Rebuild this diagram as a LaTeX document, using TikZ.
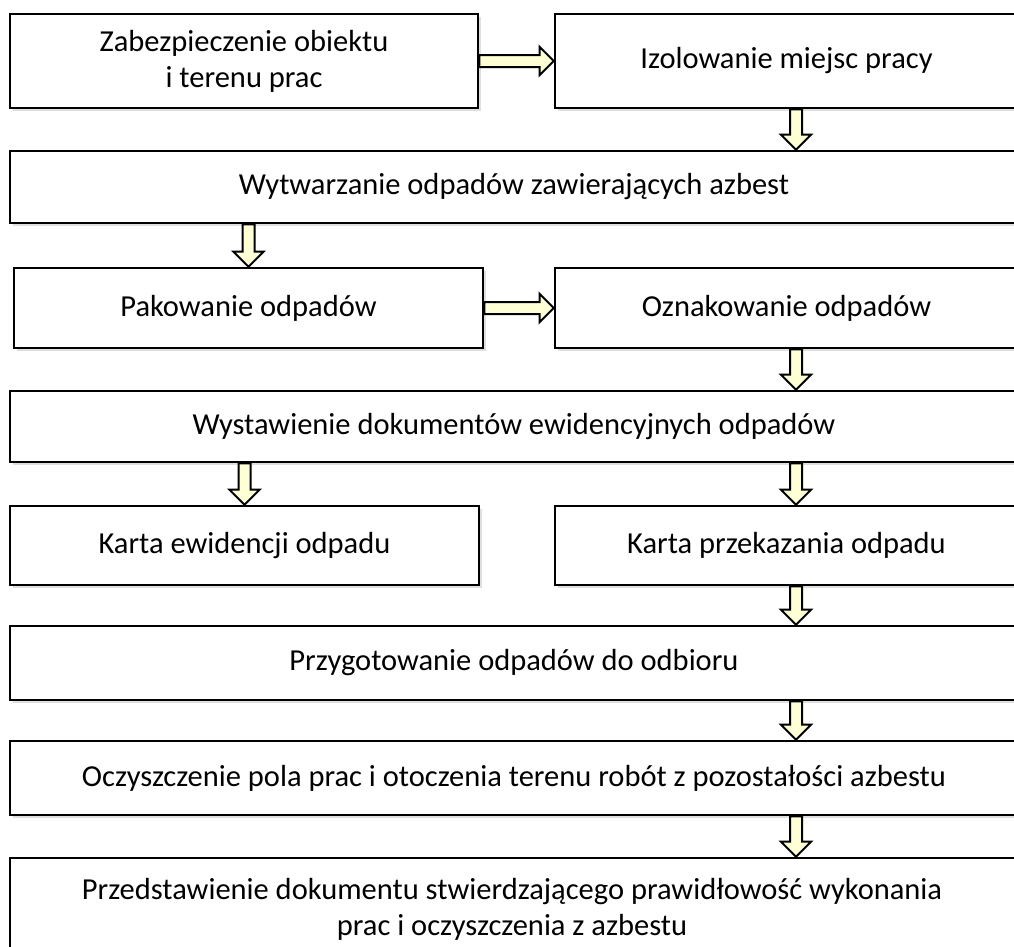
\documentclass[tikz,border=0pt]{standalone}
\usepackage{fontspec}
\setmainfont{Carlito}
\usetikzlibrary{shadows,calc}
\definecolor{arrowfill}{RGB}{255,255,213}
\tikzset{
  box/.style={draw=black, line width=2.6pt, fill=white, rectangle, inner sep=0pt,
    align=center, font=\fontsize{30.5}{36}\selectfont,
    drop shadow={opacity=0.25, shadow xshift=2.5pt, shadow yshift=-2.5pt}},
  boxtext/.style={inner sep=0pt, align=center, font=\fontsize{30.5}{36}\selectfont},
  barrow/.style={draw=black, line width=2pt, fill=arrowfill, line join=miter},
}
\newcommand\varrow[2]{\path[barrow] let \p1=#1, \p2=#2 in
  (\x1-6pt,\y1) -- (\x1-6pt,\y2+15pt) -- (\x1-15pt,\y2+15pt) -- (\x1,\y2)
  -- (\x1+15pt,\y2+15pt) -- (\x1+6pt,\y2+15pt) -- (\x1+6pt,\y1) -- cycle;}
\newcommand\harrow[2]{\path[barrow] let \p1=#1, \p2=#2 in
  (\x1,\y1+6pt) -- (\x2-14pt,\y1+6pt) -- (\x2-14pt,\y1+14pt) -- (\x2,\y1)
  -- (\x2-14pt,\y1-14pt) -- (\x2-14pt,\y1-6pt) -- (\x1,\y1-6pt) -- cycle;}
\begin{document}
\begin{tikzpicture}[x=1pt,y=-1pt]
\useasboundingbox (0,0) rectangle (1014,946);
\clip (0,0) rectangle (1014,946);
\fill[white] (0,0) rectangle (1014,946);
\coordinate (rx) at (796,0);
\node[box, minimum width=468pt, minimum height=94pt] (b1) at (244,61) {Zabezpieczenie obiektu\\i terenu prac};
\node[box, minimum width=463pt, minimum height=94pt] (b2) at (786.5,61) {Izolowanie miejsc pracy};
\node[box, minimum width=1008pt, minimum height=72pt] (b3) at (514,187) {Wytwarzanie odpadów zawierających azbest};
\node[box, minimum width=469pt, minimum height=80pt] (b4) at (248.5,308) {Pakowanie odpadów};
\node[box, minimum width=463pt, minimum height=80pt] (b5) at (786.5,308) {Oznakowanie odpadów};
\node[box, minimum width=1008pt, minimum height=71pt] (b6) at (514,426.5) {Wystawienie dokumentów ewidencyjnych odpadów};
\node[box, minimum width=469pt, minimum height=79pt] (b7) at (244.5,545.5) {Karta ewidencji odpadu};
\node[box, minimum width=463pt, minimum height=79pt] (b8) at (786.5,545.5) {Karta przekazania odpadu};
\node[box, minimum width=1008pt, minimum height=74pt] (b9) at (514,663) {Przygotowanie odpadów do odbioru};
\node[box, minimum width=1008pt, minimum height=74pt] (b10) at (514,778) {Oczyszczenie pola prac i otoczenia terenu robót z pozostałości azbestu};
\node[box, minimum width=1008pt, minimum height=102pt] (b11) at (514,909) {};
\node[boxtext] (t11) at (512,909) {Przedstawienie dokumentu stwierdzającego prawidłowość wykonania\\prac i oczyszczenia z azbestu};
\harrow{(b1.east)}{(b2.west)}
\varrow{(b2.south -| rx)}{(b3.north -| rx)}
\varrow{(b3.south -| b4.north)}{(b4.north)}
\harrow{(b4.east)}{(b5.west)}
\varrow{(b5.south -| rx)}{(b6.north -| rx)}
\varrow{(b6.south -| b7.north)}{(b7.north)}
\varrow{(b6.south -| rx)}{(b8.north -| rx)}
\varrow{(b8.south -| rx)}{(b9.north -| rx)}
\varrow{(b9.south -| rx)}{(b10.north -| rx)}
\varrow{(b10.south -| rx)}{(b11.north -| rx)}
\end{tikzpicture}
\end{document}
